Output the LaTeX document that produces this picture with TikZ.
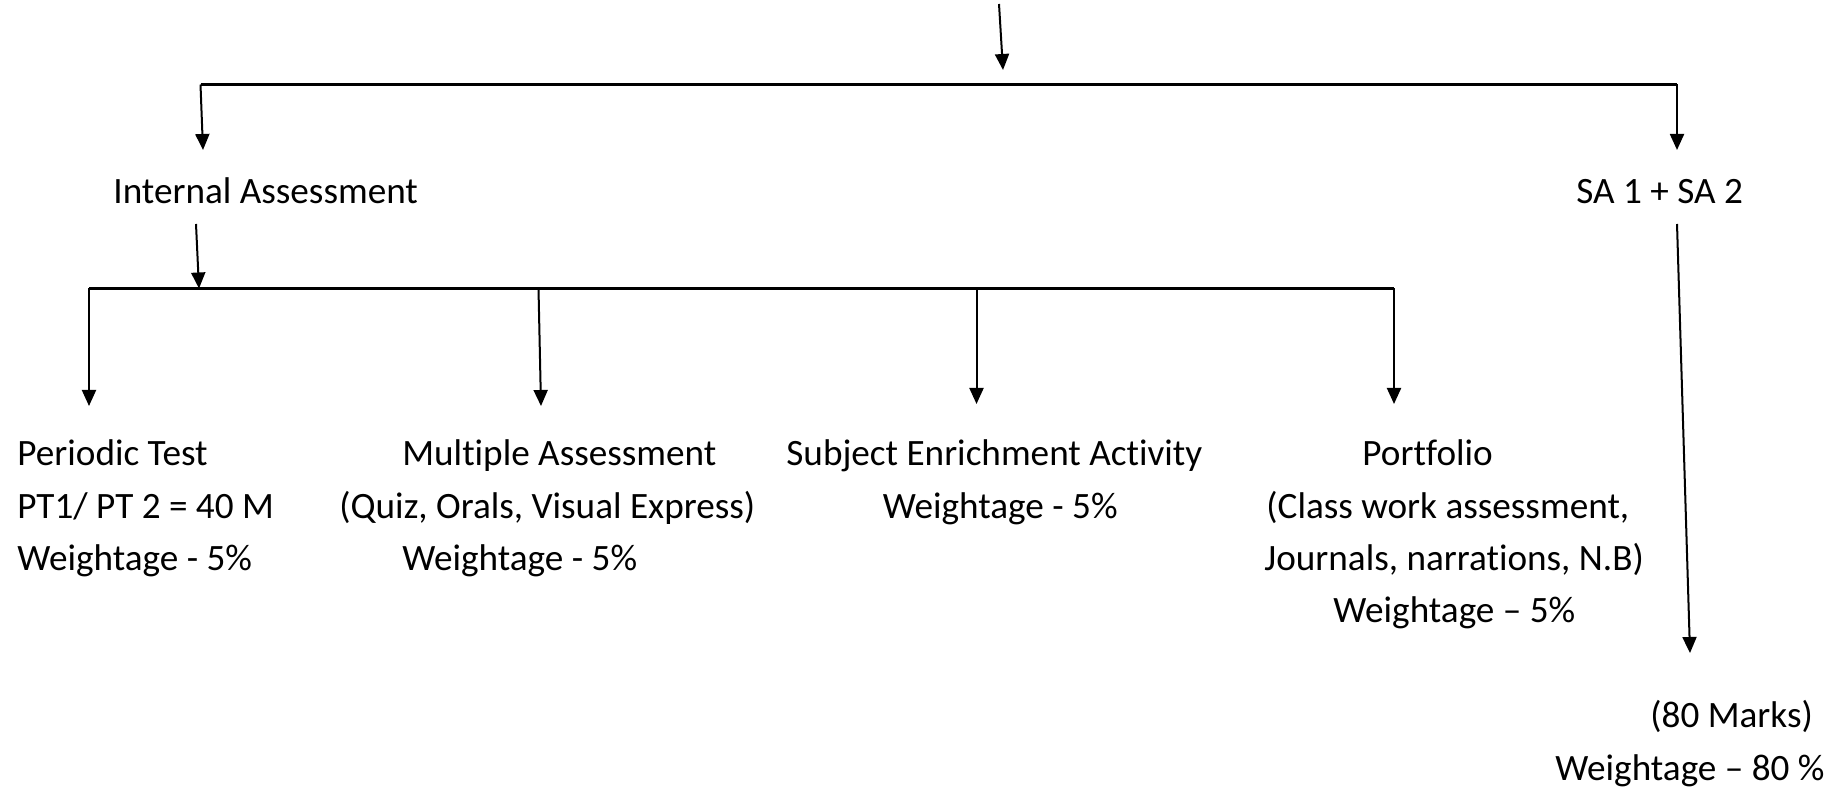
\documentclass[tikz,border=0pt]{standalone}
\usepackage{fontspec}
\setmainfont{Carlito}[Ligatures=CommonOff]
\usetikzlibrary{arrows.meta}
\begin{document}
\begin{tikzpicture}[x=0.5pt,y=-0.5pt,
  conn/.style={line width=1pt,-{Triangle[width=7pt,length=8pt]}},
  bar/.style={line width=1.3pt},
  lbl/.style={anchor=base west,inner sep=0pt,font=\fontsize{18.6}{26}\selectfont}]
\useasboundingbox (0,0) rectangle (1839,790);
% coordinates
\coordinate (src) at (999,4);
\coordinate (srcTip) at (1003,70);
\coordinate (barL) at (200.5,84.5);
\coordinate (barR) at (1677,84.5);
\coordinate (iaTip) at (203,150);
\coordinate (saTip) at (1677,150);
\coordinate (iaOut) at (196,224);
\coordinate (bar2L) at (89,288.5);
\coordinate (bar2M) at (538.5,288.5);
\coordinate (bar2S) at (976.5,288.5);
\coordinate (bar2R) at (1394,288.5);
\coordinate (iaIn) at (199,288.5);
\coordinate (ptTip) at (89,406);
\coordinate (maTip) at (541,406);
\coordinate (seTip) at (976.5,404);
\coordinate (pfTip) at (1394,404);
\coordinate (saOut) at (1677,224);
\coordinate (mkTip) at (1690,653);
% labels
\node[lbl] (ia) at (113,204) {Internal Assessment};
\node[lbl] (sa) at (1576,204) {SA 1 + SA 2};
\node[lbl] (pt1) at (17,466) {Periodic Test};
\node[lbl] (pt2) at (17,518) {PT1/ PT 2 = 40 M};
\node[lbl] (pt3) at (17,570) {Weightage - 5\%};
\node[lbl] (ma1) at (402,466) {Multiple Assessment};
\node[lbl] (ma2) at (339,518) {(Quiz, Orals, Visual Express)};
\node[lbl] (ma3) at (402,570) {Weightage - 5\%};
\node[lbl] (se1) at (786,466) {Subject Enrichment Activity};
\node[lbl] (se2) at (882.5,518) {Weightage - 5\%};
\node[lbl] (pf1) at (1362,466) {Portfolio};
\node[lbl] (pf2) at (1266,518) {(Class work assessment,};
\node[lbl] (pf3) at (1264,570) {Journals, narrations, N.B)};
\node[lbl] (pf4) at (1333,622) {Weightage – 5\%};
\node[lbl] (mk1) at (1650,727) {(80 Marks)};
\node[lbl] (mk2) at (1555,780) {Weightage – 80 \%};
% connectors
\draw[conn] (src) -- (srcTip);
\draw[bar] (barL) -- (barR);
\draw[conn] (barL) -- (iaTip);
\draw[conn] (barR) -- (saTip);
\draw[conn] (iaOut) -- (iaIn);
\draw[bar] (bar2L) -- (bar2R);
\draw[conn] (bar2L) -- (ptTip);
\draw[conn] (bar2M) -- (maTip);
\draw[conn] (bar2S) -- (seTip);
\draw[conn] (bar2R) -- (pfTip);
\draw[conn] (saOut) -- (mkTip);
\end{tikzpicture}
\end{document}
